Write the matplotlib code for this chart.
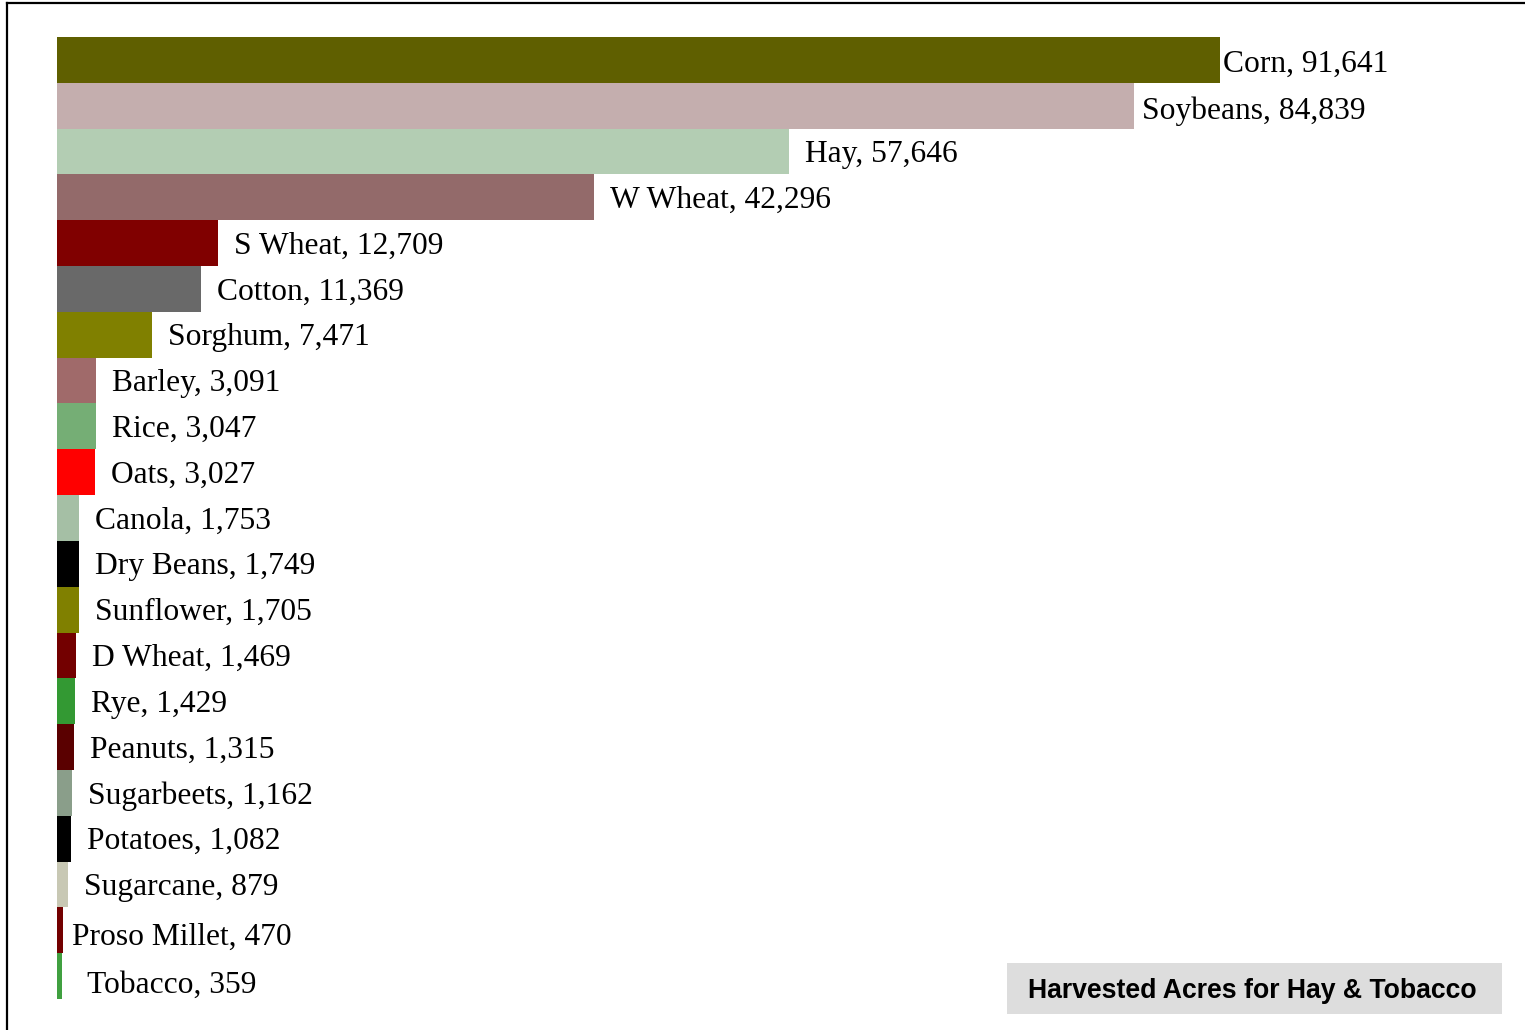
import matplotlib.pyplot as plt
from matplotlib.patches import Rectangle
from matplotlib.lines import Line2D

crops = ['Corn', 'Soybeans', 'Hay', 'W Wheat', 'S Wheat', 'Cotton', 'Sorghum',
         'Barley', 'Rice', 'Oats', 'Canola', 'Dry Beans', 'Sunflower', 'D Wheat',
         'Rye', 'Peanuts', 'Sugarbeets', 'Potatoes', 'Sugarcane', 'Proso Millet',
         'Tobacco']
acres = [91641, 84839, 57646, 42296, 12709, 11369, 7471, 3091, 3047, 3027,
         1753, 1749, 1705, 1469, 1429, 1315, 1162, 1082, 879, 470, 359]
colors = ['#5f5f00', '#c4aeae', '#b3cdb3', '#936a6a', '#800000', '#696969',
          '#808000', '#a06a6a', '#75ae75', '#ff0000', '#a5bfa5', '#000000',
          '#808000', '#730000', '#339933', '#5a0000', '#8a9e8a', '#000000',
          '#c8c8b4', '#730000', '#40a040']
title = 'Harvested Acres for Hay & Tobacco'

# label offsets in pixels (dx, dy), mostly 16px right of the bar end
dx_px = [3, 8] + [16] * 17 + [9, 25]
dy_px = [-4, -6] + [-3] * 17 + [-7, -9]

W, H = 1525, 1030
fig = plt.figure(figsize=(W / 100, H / 100), dpi=100)

xmax = 100000
ax_w = 1163 * xmax / 91641
ax = fig.add_axes([57 / W, 31 / H, ax_w / W, 962 / H])
ypos = list(range(len(crops)))
ax.barh(ypos, acres, height=1.0, color=colors, left=0)
ax.set_xlim(0, xmax)
ax.set_ylim(len(crops) - 0.5, -0.5)
ax.axis('off')

for i, (c, v) in enumerate(zip(crops, acres)):
    ax.annotate(f'{c}, {v:,}', xy=(v, i), xytext=(dx_px[i] * 0.72, dy_px[i] * 0.72),
                textcoords='offset points', va='center', ha='left',
                fontsize=22.7, family='Liberation Serif', color='black')

# outer border (left and top)
fig.add_artist(Line2D([6.5 / W, 6.5 / W], [0, 1 - 3 / H], color='black', lw=1.6,
                      transform=fig.transFigure))
fig.add_artist(Line2D([6.5 / W, 1], [1 - 3 / H, 1 - 3 / H], color='black', lw=1.6,
                      transform=fig.transFigure))

# title box
bx0, bx1, by0, by1 = 1007, 1502, 963, 1014
fig.add_artist(Rectangle((bx0 / W, 1 - by1 / H), (bx1 - bx0) / W, (by1 - by0) / H,
                         facecolor='#dddddd', edgecolor='none',
                         transform=fig.transFigure))
fig.text((bx0 + bx1) / 2 / W - 2 / W, 1 - ((by0 + by1) / 2 + 3) / H, title,
         ha='center', va='center', fontsize=19.2, fontweight='bold',
         family='Liberation Sans')

fig.savefig('out.png', dpi=100)
